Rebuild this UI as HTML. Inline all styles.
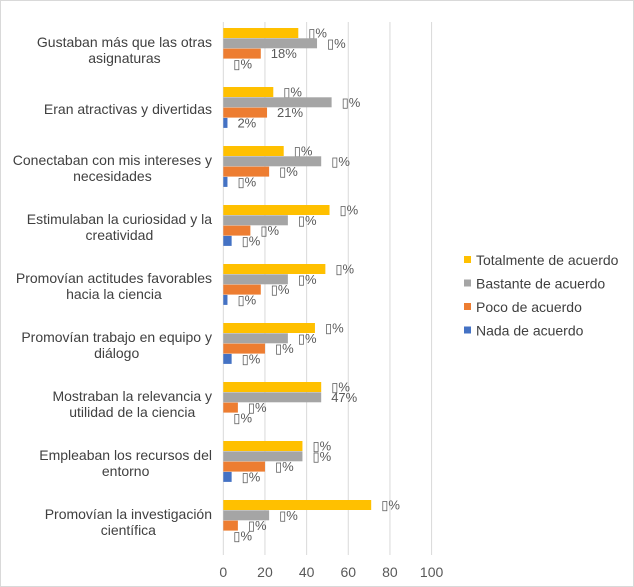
<!DOCTYPE html>
<html><head><meta charset="utf-8"><style>
body{margin:0;background:#fff;}
svg{display:block;font-family:"Liberation Sans",sans-serif;}
</style></head><body>
<svg id="chart" width="634" height="587">
<rect x="0.5" y="0.5" width="633" height="586" fill="#fff" stroke="#d9d9d9"/>
</svg>
<script>
const categories=[["Gustaban más que las otras","asignaturas"],["Eran atractivas y divertidas"],["Conectaban con mis intereses y","necesidades"],["Estimulaban la curiosidad y la","creatividad"],["Promovían actitudes favorables","hacia la ciencia"],["Promovían trabajo en equipo y","diálogo"],["Mostraban la relevancia y","utilidad de la ciencia"],["Empleaban los recursos del","entorno"],["Promovían la investigación","científica"]];
const seriesNames=["Totalmente de acuerdo","Bastante de acuerdo","Poco de acuerdo","Nada de acuerdo"];
const totalmente=[36,24,29,51,49,44,47,38,71];
const bastante=[45,52,47,31,31,31,47,38,22];
const poco=[18,21,22,13,18,20,7,20,7];
const nada=[0,2,2,4,2,4,0,4,0];
const labelsT=["▯%","▯%","▯%","▯%","▯%","▯%","▯%","▯%","▯%"];
const labelsB=["▯%","▯%","▯%","▯%","▯%","▯%","47%","▯%","▯%"];
const labelsP=["18%","21%","▯%","▯%","▯%","▯%","▯%","▯%","▯%"];
const labelsN=["▯%","2%","▯%","▯%","▯%","▯%","▯%","▯%","▯%"];
const ticks=[0,20,40,60,80,100];
const colors=["#ffc000","#a5a5a5","#ed7d31","#4472c4"];
const svg=document.getElementById('chart');
const NS="http://www.w3.org/2000/svg";
const x0=223.3,pxu=2.083,top0=22,band=59;
const X=v=>x0+v*pxu;
function mk(t,a){const e=document.createElementNS(NS,t);for(const k in a)e.setAttribute(k,a[k]);svg.appendChild(e);return e;}
ticks.forEach(t=>{
 const l=mk('line',{x1:X(t),x2:X(t),y1:top0,y2:555,stroke:'#d9d9d9','stroke-width':1});
 
 
 const tx=mk('text',{x:X(t),y:577,'text-anchor':'middle','font-size':14,fill:'#595959'});
 tx.textContent=t;
 
 
});
const series=[totalmente,bastante,poco,nada];
const labels=[labelsT,labelsB,labelsP,labelsN];
categories.forEach((c,i)=>{
 const gy=top0+6+i*band;
 series.forEach((s,j)=>{
  const y=gy+j*10.3;
  const r=mk('rect',{x:x0,y:y,width:Math.max(0,X(s[i])-x0),height:10,fill:colors[j]});
  
  
  const t=mk('text',{x:X(s[i])+10,y:y+9.5,'font-size':13,fill:'#595959'});
  t.textContent=labels[j][i];
  
  
 });
 const cy=gy+22;
 const n=c.length;
 const els=[];
 c.forEach((line,k)=>{
  const t=mk('text',{x:0,y:cy+5+(k-(n-1)/2)*16,'text-anchor':'middle','font-size':14,fill:'#404040'});
  t.textContent=line;
  
  
  els.push(t);
 });
 let w=0;els.forEach(e=>{w=Math.max(w,e.getComputedTextLength());});
 els.forEach(e=>e.setAttribute('x',212-w/2));
});
seriesNames.forEach((nm,j)=>{
 const y=260+j*23.5;
 const r=mk('rect',{x:464,y:y-4,width:7,height:7,fill:colors[j]});
 
 
 const t=mk('text',{x:476,y:y+5,'font-size':14,fill:'#404040'});
 t.textContent=nm;
 
 
});
</script>
</body></html>
